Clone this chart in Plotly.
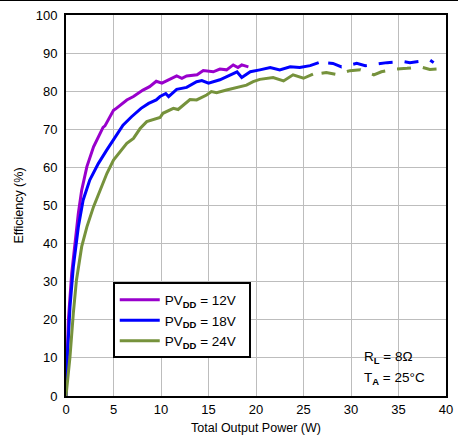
import plotly.graph_objects as go

# 12 V series (solid)
w12 = [0, 0.1, 0.25, 0.6, 0.95, 1.3, 1.65, 2.2, 2.9, 3.4, 3.9, 4.1, 4.45, 5.0, 5.2, 5.7, 6.4,
       7.1, 7.8, 8.1, 8.8, 9.5, 10.1, 10.9, 11.65, 12.2, 12.7, 13.8, 14.45, 15.5, 16.2, 16.9,
       17.6, 18.1, 18.5, 19.2]
e12 = [0, 10, 20, 32.2, 41, 48, 54, 60.2, 65.4, 68, 70.5, 70.9, 72.4, 75, 75.3, 76.2, 77.7,
       78.6, 79.9, 80.3, 81.2, 82.6, 82.1, 83, 84, 83.4, 84, 84.3, 85.4, 85.1, 85.8, 85.6,
       86.9, 86.2, 86.9, 86.4]

# 18 V series (solid, then dashed)
w18 = [0, 0.14, 0.42, 0.77, 1.3, 1.8, 2.5, 3.4, 4.3, 5.2, 6.0, 6.9, 7.9, 8.7, 9.5, 9.9, 10.5,
       10.8, 11.65, 12.7, 13.75, 14.3, 15.0, 16.2, 17.6, 18.0, 18.5, 19.4, 20.4, 21.5, 22.5,
       23.6, 24.6, 25.7, 26.6]
e18 = [0, 10.3, 23.4, 33.9, 44.4, 51.4, 56.7, 61, 64.6, 68, 71.1, 73.3, 75.5, 76.8, 77.7, 78.6,
       79.4, 78.6, 80.5, 81, 82.5, 82.8, 82.1, 83, 84.5, 85.1, 83.6, 85.1, 85.6, 86.2, 85.6,
       86.4, 86.2, 86.7, 87.5]
w18d = [27.6, 28.1, 29.0, 30.6, 31.5, 33.0, 33.8, 35.4, 36.2, 37.8, 38.3, 38.7]
e18d = [87.4, 87.3, 86.4, 87.3, 86.7, 87.3, 87.5, 87.8, 87.5, 88.0, 88.2, 87.5]

# 24 V series (solid, then dashed)
w24 = [0, 0.42, 0.77, 1.1, 1.65, 2.2, 2.9, 3.6, 4.3, 5.0, 5.9, 6.4, 7.1, 7.8, 8.5, 9.2, 9.9,
       10.2, 11.3, 11.8, 12.5, 13.05, 13.75, 14.8, 15.3, 15.85, 16.9, 17.95, 19.0, 19.7, 20.4,
       21.8, 22.9, 23.9, 25.0, 26.0]
e24 = [0, 10.3, 21.7, 30.4, 39.2, 44.4, 49.7, 54, 58.4, 61.9, 64.6, 66.3, 67.6, 70.2, 72, 72.6,
       73.1, 74.2, 75.5, 75.2, 76.8, 77.8, 77.7, 79, 79.9, 79.6, 80.3, 81, 81.6, 82.5, 83.1,
       83.6, 82.7, 84.3, 83.4, 84.5]
w24d = [26.9, 27.4, 28.5, 29.9, 31.0, 32.4, 33.2, 34.8, 35.9, 37.3, 38.3, 39.7, 40.0]
e24d = [84.7, 84.9, 84.4, 85.4, 85.6, 84.3, 85.1, 85.8, 86.0, 86.4, 85.7, 85.8, 86.0]

x_ticks = [0, 5, 10, 15, 20, 25, 30, 35, 40]
y_ticks = [0, 10, 20, 30, 40, 50, 60, 70, 80, 90, 100]

PURPLE = "#9900CC"
BLUE = "#0000FF"
GREEN = "#76923C"
FONT = "Arial, Liberation Sans, sans-serif"

fig = go.Figure()
fig.add_trace(go.Scatter(x=w12, y=e12, mode="lines", line=dict(color=PURPLE, width=3),
                         name="PV<sub><b>DD</b></sub> = 12V  "))
fig.add_trace(go.Scatter(x=w18, y=e18, mode="lines", line=dict(color=BLUE, width=3),
                         name="PV<sub><b>DD</b></sub> = 18V  "))
fig.add_trace(go.Scatter(x=w24, y=e24, mode="lines", line=dict(color=GREEN, width=3),
                         name="PV<sub><b>DD</b></sub> = 24V  "))
fig.add_trace(go.Scatter(x=w18d, y=e18d, mode="lines",
                         line=dict(color=BLUE, width=3, dash="14px,12px"), showlegend=False))
fig.add_trace(go.Scatter(x=w24d, y=e24d, mode="lines",
                         line=dict(color=GREEN, width=3, dash="14px,12px"), showlegend=False))

fig.update_layout(
    width=458, height=438,
    margin=dict(l=66, r=12, t=15, b=42, autoexpand=False),
    paper_bgcolor="white", plot_bgcolor="white",
    font=dict(family=FONT, size=13, color="black"),
    showlegend=True,
    legend=dict(x=0.123, y=0.298, xanchor="left", yanchor="top",
                bgcolor="white", bordercolor="black", borderwidth=2,
                font=dict(size=13.5), tracegroupgap=0, itemwidth=40),
    xaxis=dict(range=[0, 40], tickvals=x_ticks, showgrid=True, gridcolor="#BDBDBD", gridwidth=1.3,
               showline=True, linecolor="black", linewidth=2, mirror=True, zeroline=False,
               ticks="", automargin=False),
    yaxis=dict(range=[0, 100], tickvals=y_ticks, showgrid=True, gridcolor="#BDBDBD", gridwidth=1.3,
               showline=True, linecolor="black", linewidth=2, mirror=True, zeroline=False,
               ticks="", ticklabelstandoff=4, automargin=False),
)

# axis titles
fig.add_annotation(xref="paper", yref="paper", x=0.5, y=-0.083, xanchor="center", yanchor="middle",
                   text="Total Output Power (W)", showarrow=False, font=dict(size=12.5))
fig.add_annotation(xref="paper", yref="paper", x=-0.126, y=0.5, xanchor="center", yanchor="middle",
                   text="Efficiency (%)", textangle=-90, showarrow=False, font=dict(size=12.5))

fig.add_annotation(xref="paper", yref="paper", x=0.78, y=0.1, xanchor="left", yanchor="middle",
                   text="R<sub><b>L</b></sub> = 8Ω", showarrow=False, font=dict(size=13.5))
fig.add_annotation(xref="paper", yref="paper", x=0.78, y=0.047, xanchor="left", yanchor="middle",
                   text="T<sub><b>A</b></sub> = 25°C", showarrow=False, font=dict(size=13.5))

post = (
    "document.body.style.margin='0';document.body.style.overflow='hidden';"
    "var r=document.createElement('div');"
    "r.style.cssText='position:fixed;left:0;top:0;width:100%;height:1px;background:#000;z-index:1000;';"
    "document.body.appendChild(r);"
)
fig.write_html("out.html", config={"displayModeBar": False}, post_script=post)
